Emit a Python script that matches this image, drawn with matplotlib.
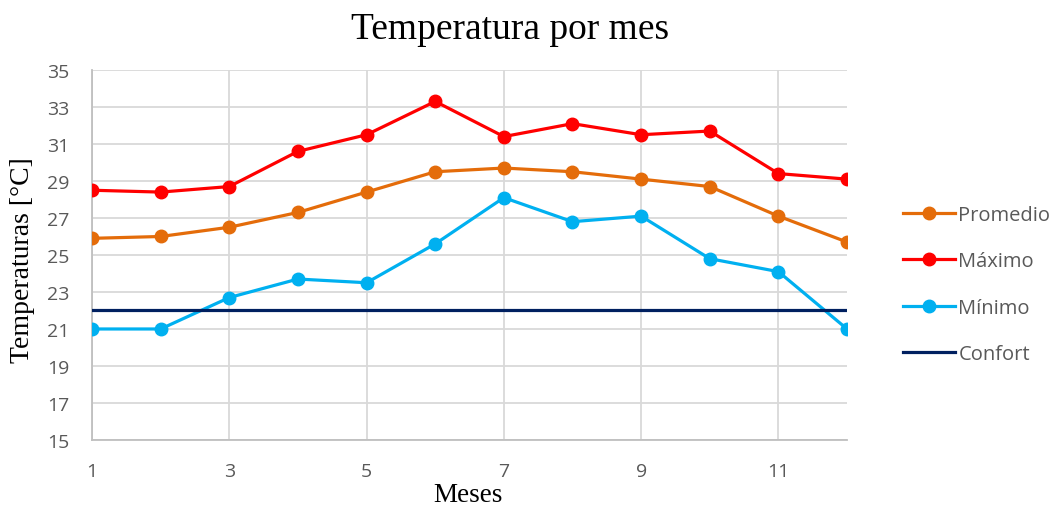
import matplotlib
matplotlib.use("Agg")
import matplotlib.pyplot as plt

meses = [1, 2, 3, 4, 5, 6, 7, 8, 9, 10, 11, 12]
promedio = [25.9, 26.0, 26.5, 27.3, 28.4, 29.5, 29.7, 29.5, 29.1, 28.7, 27.1, 25.7]
maximo = [28.5, 28.4, 28.7, 30.6, 31.5, 33.3, 31.4, 32.1, 31.5, 31.7, 29.4, 29.1]
minimo = [21.0, 21.0, 22.7, 23.7, 23.5, 25.6, 28.1, 26.8, 27.1, 24.8, 24.1, 21.0]
confort = [22.0] * 12

x_ticks = [1, 3, 5, 7, 9, 11]
y_ticks = list(range(15, 36, 2))

GRID = "#d9d9d9"
TEXT = "#595959"
SERIF = ["Liberation Serif", "DejaVu Serif"]
SANS = ["Open Sans", "DejaVu Sans"]

fig = plt.figure(figsize=(10.53, 5.06), dpi=100)
ax = fig.add_axes([0.0874, 0.1285, 0.717, 0.7312])

series = [
    ("Promedio", promedio, "#e46c0a", "o"),
    ("Máximo", maximo, "#ff0000", "o"),
    ("Mínimo", minimo, "#00b0f0", "o"),
]
for name, vals, color, mk in series:
    ax.plot(meses, vals, color=color, linewidth=2.3, marker=mk,
            markersize=9, label=name, zorder=3)
ax.plot(meses, confort, color="#002060", linewidth=2.3, label="Confort", zorder=3)

ax.set_xlim(1, 12)
ax.set_ylim(15, 35)
ax.set_xticks(x_ticks)
ax.set_yticks(y_ticks)
ax.grid(True, color=GRID, linewidth=1.3)
ax.set_axisbelow(True)
for side in ["top", "right"]:
    ax.spines[side].set_visible(False)
for side in ["left", "bottom"]:
    ax.spines[side].set_color("#bfbfbf")
    ax.spines[side].set_linewidth(1.3)
ax.tick_params(length=0, labelsize=14, labelcolor=TEXT)
ax.tick_params(axis="y", pad=16)
ax.tick_params(axis="x", pad=16)
for lbl in ax.get_xticklabels() + ax.get_yticklabels():
    lbl.set_family(SANS)

fig.text(510 / 1053, 1 - 30 / 506, "Temperatura por mes", family=SERIF,
         fontsize=27, ha="center", va="center")
ax.set_xlabel("Meses", family=SERIF, fontsize=19.5)
ax.set_ylabel("Temperaturas [°C]", family=SERIF, fontsize=20)
ax.xaxis.set_label_coords(0.498, -0.113)
ax.yaxis.set_label_coords(-0.076, 0.49)

leg = ax.legend(loc="center left", bbox_to_anchor=(1.05, 0.42), frameon=False,
                prop={"family": SANS, "size": 14.5}, labelspacing=1.3,
                handlelength=2.6, handletextpad=0.15)
for t in leg.get_texts():
    t.set_color(TEXT)

fig.savefig("out.png", dpi=100)
